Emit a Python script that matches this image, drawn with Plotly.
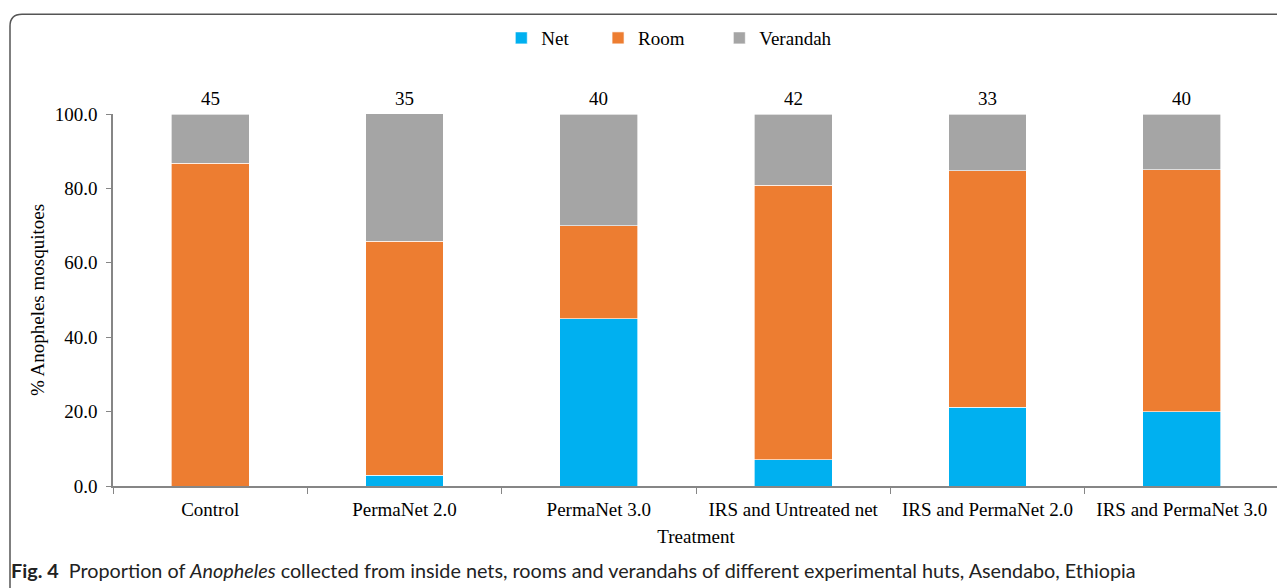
import plotly.graph_objects as go

categories = ["Control", "PermaNet 2.0", "PermaNet 3.0", "IRS and Untreated net",
              "IRS and PermaNet 2.0", "IRS and PermaNet 3.0"]
net = [0.0, 2.9, 45.0, 7.1, 21.2, 20.0]
room = [86.7, 62.9, 25.0, 73.8, 63.6, 65.0]
verandah = [13.3, 34.3, 30.0, 19.0, 15.2, 15.0]
counts = [45, 35, 40, 42, 33, 40]

colors = {"Net": "#00B0F0", "Room": "#ED7D31", "Verandah": "#A5A5A5"}
serif = "Liberation Serif, Times New Roman, serif"

fig = go.Figure()
legend_ids = ["legend", "legend2", "legend3"]
for (name, vals), lg in zip([("Net", net), ("Room", room), ("Verandah", verandah)], legend_ids):
    fig.add_trace(go.Bar(
        x=categories, y=vals, name=name, legend=lg, showlegend=True,
        marker=dict(color=colors[name], line=dict(color="rgba(255,255,255,0.8)", width=0.8)),
    ))

for cat, n in zip(categories, counts):
    fig.add_annotation(x=cat, y=100, xref="x", yref="y", text=str(n), showarrow=False,
                       yanchor="bottom", yshift=3, font=dict(family=serif, size=19, color="#000"))

# caption
fig.add_annotation(
    x=-0.089, y=-0.226, xref="paper", yref="paper", xanchor="left", yanchor="middle",
    showarrow=False,
    text="<b>Fig. 4</b>  Proportion of <i>Anopheles</i> collected from inside nets, rooms and verandahs of different experimental huts, Asendabo, Ethiopia",
    font=dict(family="Lato, Open Sans, sans-serif", size=19.8, color="#222"),
)

# rounded frame (top-left corner visible)
W, H = 1166.0, 373.0
x0 = (10 - 113) / W
yt = (486 - 13) / H
yb = (486 - 600) / H
xr = (1300 - 113) / W
rx, ry = 12 / W, 12 / H
fig.add_shape(type="path", xref="paper", yref="paper",
              path=f"M {x0},{yb} L {x0},{yt - ry} Q {x0},{yt} {x0 + rx},{yt} L {xr},{yt}",
              line=dict(color="#555555", width=1.5))

leg_common = dict(orientation="h", y=1.201, xanchor="left", yanchor="middle",
                  bgcolor="rgba(0,0,0,0)", font=dict(family=serif, size=19, color="#000"))

axis_color = "#868686"
fig.update_layout(
    width=1285, height=588,
    margin=dict(l=105, r=14, t=105, b=110),
    showlegend=True,
    barmode="stack", bargap=0.6,
    plot_bgcolor="white", paper_bgcolor="white",
    font=dict(family=serif, size=19, color="#000"),
    legend=dict(x=0.333, visible=True, **leg_common),
    legend2=dict(x=0.416, visible=True, **leg_common),
    legend3=dict(x=0.520, visible=True, **leg_common),
    xaxis=dict(title=dict(text="Treatment", standoff=11, font=dict(size=19)),
               type="category", tickson="boundaries", ticks="outside", ticklen=6,
               ticklabelstandoff=5,
               tickcolor=axis_color, showline=True, linecolor=axis_color, linewidth=1.5,
               showgrid=False, tickfont=dict(size=19)),
    yaxis=dict(title=dict(text="% Anopheles mosquitoes", standoff=5, font=dict(size=19)),
               range=[0, 100], dtick=20, tickformat=".1f", ticks="outside", ticklen=5,
               ticklabelstandoff=5,
               tickcolor=axis_color, showline=True, linecolor=axis_color, linewidth=1.5,
               showgrid=False, zeroline=False, tickfont=dict(size=19)),
)

fig.write_html("out.html")
